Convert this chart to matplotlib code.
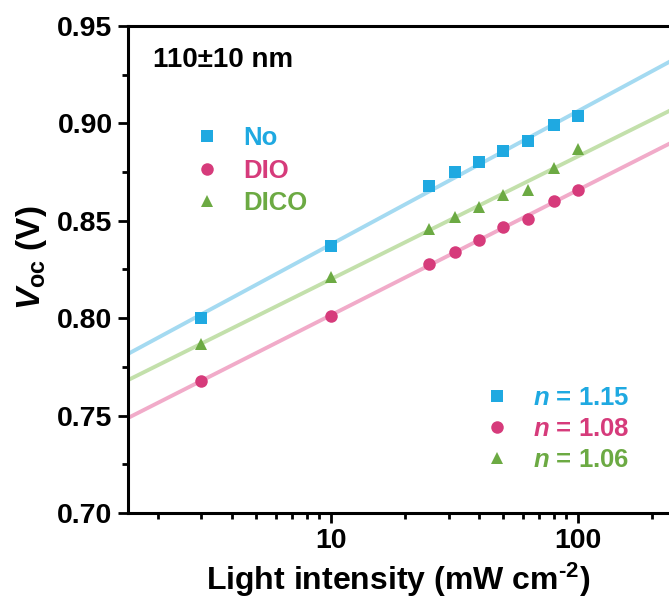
import numpy as np
import matplotlib
matplotlib.use('Agg')
import matplotlib.pyplot as plt
from matplotlib.lines import Line2D
from matplotlib.ticker import LogLocator, MultipleLocator, FixedLocator, NullFormatter, FormatStrFormatter

plt.rcParams['font.family'] = 'Liberation Sans'
plt.rcParams['font.weight'] = 'bold'
plt.rcParams['axes.labelweight'] = 'bold'
plt.rcParams['mathtext.fontset'] = 'custom'
plt.rcParams['mathtext.rm'] = 'Liberation Sans:bold'
plt.rcParams['mathtext.it'] = 'Liberation Sans:italic:bold'
plt.rcParams['mathtext.bf'] = 'Liberation Sans:bold'

# light intensity (mW cm-2) and Voc (V)
intensity = np.array([3, 10, 25, 32, 40, 50, 63, 80, 100])
voc_no = np.array([0.800, 0.837, 0.868, 0.875, 0.880, 0.886, 0.891, 0.899, 0.904])
voc_dio = np.array([0.768, 0.801, 0.828, 0.834, 0.840, 0.847, 0.851, 0.860, 0.866])
voc_dico = np.array([0.787, 0.821, 0.846, 0.852, 0.857, 0.863, 0.866, 0.877, 0.887])

labels = ['No', 'DIO', 'DICO']
ideality = [1.15, 1.08, 1.06]
markers = ['s', 'o', '^']
dot_colors = ['#1fa9e1', '#d63b7b', '#6caa43']
line_colors = ['#a4daf1', '#f1abc9', '#c3e0ab']

kT = 0.025852  # V at 300 K
xlim = (1.512, 234)

fig = plt.figure(figsize=(6.69, 5.99), dpi=100)
ax = fig.add_axes([0.191, 0.1436, 0.809, 0.8130])

xfit = np.geomspace(*xlim, 200)
for voc, n, m, dc, lc in zip([voc_no, voc_dio, voc_dico], ideality, markers, dot_colors, line_colors):
    # fixed slope n*kT/q, intercept by least squares
    b = np.mean(voc - n * kT * np.log(intensity))
    ax.plot(xfit, b + n * kT * np.log(xfit), color=lc, lw=2.8, zorder=1)
    ax.plot(intensity, voc, ls='none', marker=m, color=dc, ms=9, mew=0, zorder=2)

ax.set_xscale('log')
ax.set_xlim(*xlim)
ax.set_ylim(0.70, 0.95)
ax.xaxis.set_major_locator(FixedLocator([10, 100]))
ax.xaxis.set_minor_locator(LogLocator(base=10, subs=np.arange(2, 10)))
ax.xaxis.set_minor_formatter(NullFormatter())
ax.set_xticklabels(['10', '100'])
ax.yaxis.set_major_locator(MultipleLocator(0.05))
ax.yaxis.set_minor_locator(MultipleLocator(0.025))
ax.yaxis.set_major_formatter(FormatStrFormatter('%.2f'))

for s in ['left', 'bottom', 'top']:
    ax.spines[s].set_linewidth(2.2)
ax.spines['right'].set_visible(False)
ax.tick_params(which='major', direction='out', length=7, width=2, labelsize=20.5, pad=4)
ax.tick_params(which='minor', direction='out', length=4.5, width=2)
ax.tick_params(top=False, which='both')

ax.set_xlabel('Light intensity (mW cm$^{\u20102}$)', fontsize=23, labelpad=4.5)
ax.set_ylabel('$V_{\\mathrm{oc}}$ (V)', fontsize=24)
ax.yaxis.set_label_coords(-0.145, 0.525)

ax.text(0.047, 0.93, '110±10 nm', transform=ax.transAxes, fontsize=20, va='center')

handles = [Line2D([], [], ls='none', marker=m, color=c, ms=9, mew=0) for m, c in zip(markers, dot_colors)]
leg1 = ax.legend(handles, labels, loc='upper left', bbox_to_anchor=(0.108, 0.815), frameon=False,
                 fontsize=18.5, labelcolor=dot_colors, handlelength=0.8, handletextpad=1.0,
                 labelspacing=0.32, borderaxespad=0)
ax.add_artist(leg1)
ax.legend(handles, [f'$n$ = {n:.2f}' for n in ideality], loc='upper left', bbox_to_anchor=(0.644, 0.282),
          frameon=False, fontsize=18.5, labelcolor=dot_colors, handlelength=0.8, handletextpad=1.0,
          labelspacing=0.28, borderaxespad=0)

fig.savefig('out.png', dpi=100)
